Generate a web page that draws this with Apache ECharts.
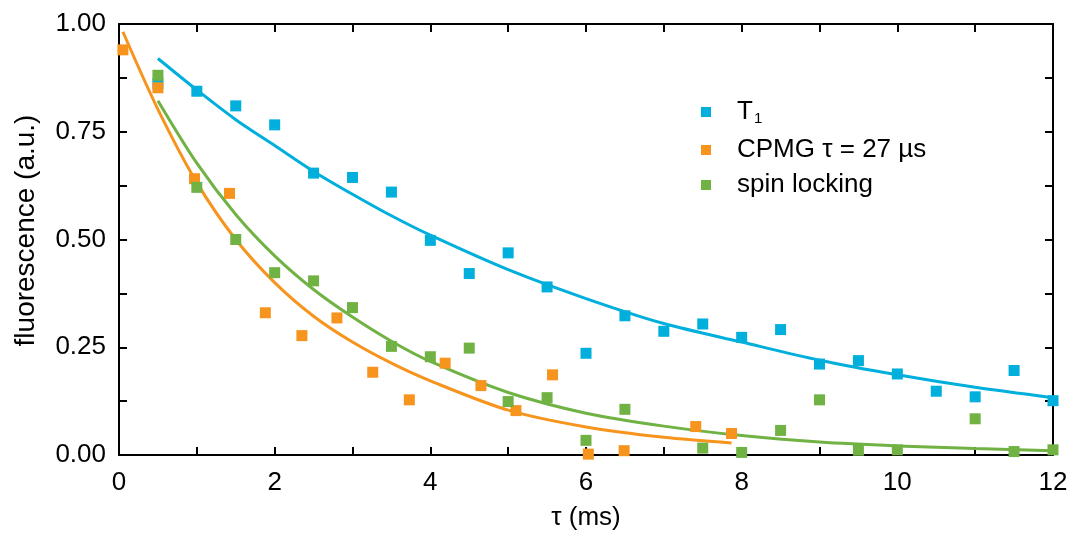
<!DOCTYPE html>
<html>
<head>
<meta charset="utf-8">
<script src="https://cdn.jsdelivr.net/npm/echarts@6/dist/echarts.min.js"></script>
<style>
html,body{margin:0;padding:0;background:#fff;}
#chart{width:1075px;height:536px;}
</style>
</head>
<body>
<div id="chart"></div>
<script>
// ---- data ----
const t1X = [0.5,1,1.5,2,2.5,3,3.5,4,4.5,5,5.5,6,6.5,7,7.5,8,8.5,9,9.5,10,10.5,11,11.5,12];
const t1Y = [0.862,0.844,0.81,0.766,0.654,0.644,0.61,0.498,0.421,0.469,0.39,0.236,0.323,0.287,0.304,0.273,0.291,0.211,0.219,0.188,0.148,0.135,0.196,0.126];

const cpmgX = [0.05,0.5,0.97,1.42,1.88,2.35,2.8,3.26,3.73,4.19,4.65,5.1,5.57,6.03,6.49,7.41,7.87];
const cpmgY = [0.94,0.852,0.641,0.607,0.33,0.277,0.318,0.192,0.128,0.213,0.161,0.103,0.186,0.002,0.01,0.066,0.05];

const spinX = [0.5,1,1.5,2,2.5,3,3.5,4,4.5,5,5.5,6,6.5,7.5,8,8.5,9,9.5,10,11,11.5,12];
const spinY = [0.881,0.621,0.5,0.423,0.404,0.342,0.252,0.228,0.248,0.124,0.133,0.034,0.106,0.016,0.006,0.057,0.128,0.011,0.012,0.084,0.008,0.012];

const t1FitX = [0.5,1,1.5,2,2.5,3,3.5,4,5,6,7,8,9,10,11,12];
const t1FitY = [0.92,0.847,0.778,0.718,0.658,0.605,0.555,0.51,0.43,0.363,0.305,0.262,0.22,0.186,0.157,0.133];

const cpmgFitX = [0.05,0.5,1,1.5,2,2.5,3,3.5,4,5,6,7,7.87];
const cpmgFitY = [0.982,0.802,0.632,0.5,0.4,0.322,0.262,0.213,0.172,0.104,0.065,0.041,0.028];

const spinFitX = [0.5,1,1.5,2,2.5,3,3.5,4,5,6,7,8,9,10,11,12];
const spinFitY = [0.822,0.677,0.558,0.462,0.384,0.32,0.264,0.217,0.145,0.097,0.067,0.045,0.03,0.021,0.015,0.01];

const names = ['T1', 'CPMG \u03c4 = 27 \u00b5s', 'spin locking'];
const colors = ['#00AFDB', '#F7941E', '#70B244'];

const pair = (xs, ys) => xs.map((x, i) => [x, ys[i]]);

const FONT = '"Liberation Sans", Arial, sans-serif';
const axisCommon = {
  type: 'value',
  axisLine: { show: true, onZero: false, lineStyle: { color: '#000', width: 2 } },
  axisTick: { show: true, inside: true, length: 8, lineStyle: { color: '#000', width: 2 } },
  splitLine: { show: false }
};

const chart = echarts.init(document.getElementById('chart'), null, { renderer: 'canvas' });

const scatterSeries = (i, xs, ys) => ({
  name: names[i], type: 'scatter', symbol: 'rect', symbolSize: 11,
  itemStyle: { color: colors[i], opacity: 1 },
  data: pair(xs, ys), z: 3
});
const lineSeries = (i, xs, ys) => ({
  type: 'line', smooth: 0.3, showSymbol: false, symbol: 'none',
  lineStyle: { color: colors[i], width: 3 },
  data: pair(xs, ys), z: 2, silent: true
});

const legendBase = (name, top) => ({
  data: [name], left: 701, top: top, orient: 'vertical',
  itemWidth: 10, itemHeight: 10, itemGap: 0, padding: 0,
  icon: 'rect',
  textStyle: {
    fontFamily: FONT, fontSize: 26, color: '#000', padding: [0,0,0,21], lineHeight: 28,
    rich: {
      t: { fontFamily: FONT, fontSize: 26, color: '#000', lineHeight: 28 },
      s: { fontFamily: FONT, fontSize: 15, color: '#000', verticalAlign: 'bottom', lineHeight: 28, padding: [22,0,0,1] }
    }
  }
});

chart.setOption({
  animation: false,
  backgroundColor: '#fff',
  textStyle: { fontFamily: FONT },
  grid: { left: 119, right: 22, top: 24, bottom: 75, containLabel: false },
  legend: [
    Object.assign(legendBase(names[0], 89), { formatter: () => '{t|T}{s|1}' }),
    legendBase(names[1], 136),
    legendBase(names[2], 171)
  ],
  xAxis: [
    Object.assign({}, axisCommon, {
      position: 'bottom', min: 0, max: 12, interval: 1,
      name: '\u03c4 (ms)', nameLocation: 'middle', nameGap: 50,
      nameTextStyle: { fontFamily: FONT, fontSize: 26, color: '#000' },
      axisLabel: { fontFamily: FONT, fontSize: 26, color: '#000', margin: 15,
        formatter: v => (Math.round(v) % 2 === 0 ? String(v) : '') }
    }),
    Object.assign({}, axisCommon, {
      position: 'top', min: 0, max: 12, interval: 1,
      axisLabel: { show: false }
    })
  ],
  yAxis: [
    Object.assign({}, axisCommon, {
      position: 'left', min: 0, max: 1, interval: 0.125,
      name: 'fluorescence (a.u.)', nameLocation: 'middle', nameGap: 79,
      nameTextStyle: { fontFamily: FONT, fontSize: 28, color: '#000', padding: [0,0,0,18] },
      axisLabel: { fontFamily: FONT, fontSize: 26, color: '#000', margin: 13,
        formatter: v => (Math.abs(v * 4 - Math.round(v * 4)) < 1e-6 ? v.toFixed(2) : '') }
    }),
    Object.assign({}, axisCommon, {
      position: 'right', min: 0, max: 1, interval: 0.125,
      axisLabel: { show: false }
    })
  ],
  series: [
    lineSeries(0, t1FitX, t1FitY),
    lineSeries(1, cpmgFitX, cpmgFitY),
    lineSeries(2, spinFitX, spinFitY),
    scatterSeries(0, t1X, t1Y),
    scatterSeries(1, cpmgX, cpmgY),
    scatterSeries(2, spinX, spinY)
  ]
});
</script>
</body>
</html>
